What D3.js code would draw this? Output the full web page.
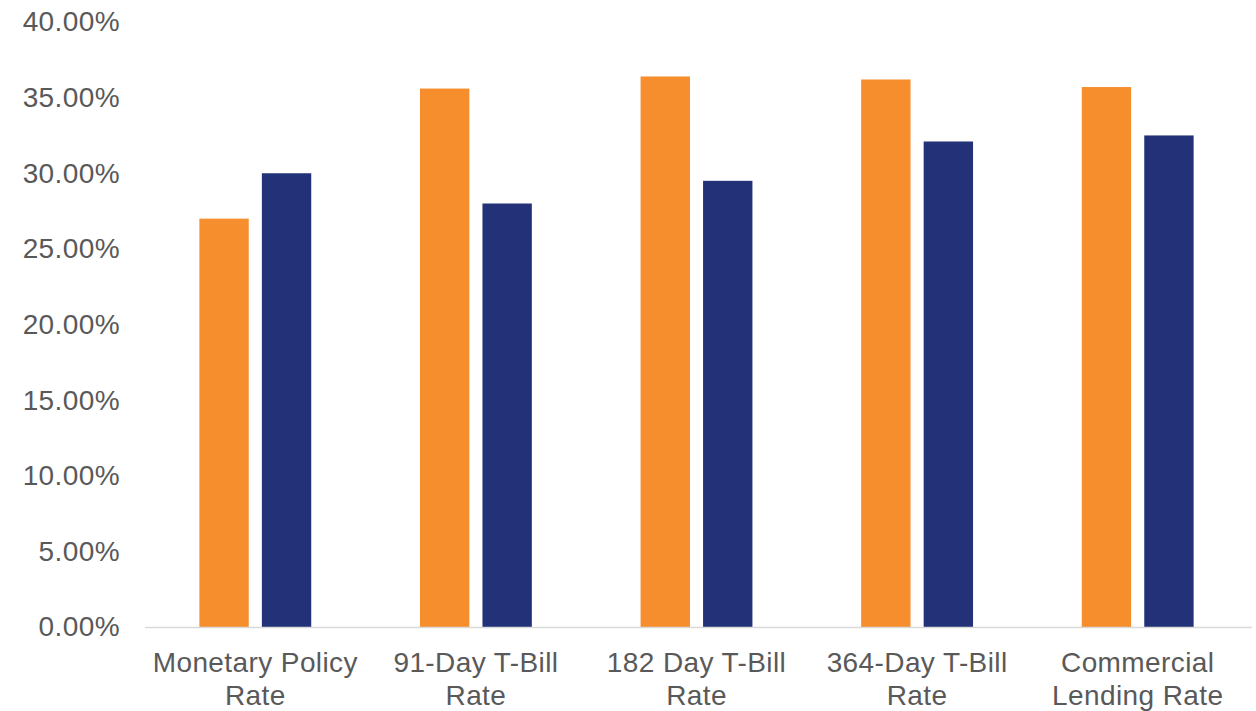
<!DOCTYPE html>
<html>
<head>
<meta charset="utf-8">
<script src="https://cdn.jsdelivr.net/npm/d3@7"></script>
<style>
  body { margin: 0; background: #fff; }
  text { font-family: "Liberation Sans", Arial, sans-serif; fill: #595959; letter-spacing: 0.4px; }
</style>
</head>
<body>
<svg id="chart" width="1256" height="711"></svg>
<script>
// categories, split into two lines as in the original
var categories = ["Monetary Policy|Rate", "91-Day T-Bill|Rate", "182 Day T-Bill|Rate", "364-Day T-Bill|Rate", "Commercial|Lending Rate"];
var series = ["a", "b"];
var seriesA = [27.0, 35.6, 36.4, 36.2, 35.7];
var seriesB = [30.0, 28.0, 29.5, 32.1, 32.5];
var yTicks = [0, 5, 10, 15, 20, 25, 30, 35, 40];
var colors = ["#f68e2d", "#233278"];

var svg = d3.select("#chart");
var margin = {top: 22, right: 8, bottom: 84, left: 145};
var width = 1256 - margin.left - margin.right;
var height = 711 - margin.top - margin.bottom;

var g = svg.append("g").attr("transform", "translate(" + margin.left + "," + margin.top + ")");

var x0 = d3.scaleBand().domain(categories).range([0, width]).padding(0);
var x1 = d3.scaleBand().domain(series).range([0, x0.bandwidth()])
    .paddingInner(0.21).paddingOuter(0.87);
var y = d3.scaleLinear().domain([0, 40]).range([height, 0]);

// y axis labels (no line, no ticks)
var yAxis = d3.axisLeft(y).tickValues(yTicks).tickSize(0).tickPadding(25)
    .tickFormat(function(d){ return d.toFixed(2) + "%"; });
var ya = g.append("g").call(yAxis);
ya.select(".domain").remove();
ya.selectAll("text").style("font-size", "28px").attr("fill", "#595959");

var rows = categories.map(function(c, i){ return {cat: c, vals: [seriesA[i], seriesB[i]]}; });

var groups = g.selectAll(".grp").data(rows).enter().append("g")
    .attr("class", "grp")
    .attr("transform", function(d){ return "translate(" + x0(d.cat) + ",0)"; });

groups.selectAll("rect")
    .data(function(d){ return d.vals.map(function(v, j){ return {key: series[j], v: v, j: j}; }); })
    .enter().append("rect")
    .attr("x", function(d){ return x1(d.key); })
    .attr("width", x1.bandwidth())
    .attr("y", function(d){ return y(d.v); })
    .attr("height", function(d){ return y(0) - y(d.v); })
    .attr("fill", function(d){ return colors[d.j]; });

// baseline
g.append("line")
    .attr("x1", 0).attr("x2", width + 4)
    .attr("y1", y(0) + 0.5).attr("y2", y(0) + 0.5)
    .attr("stroke", "#d9d9d9").attr("stroke-width", 1.5);

// category labels
var xl = g.selectAll(".xlab").data(categories).enter().append("text")
    .attr("class", "xlab")
    .attr("text-anchor", "middle")
    .style("font-size", "28px")
    .attr("transform", function(d){ return "translate(" + (x0(d) + x0.bandwidth() / 2) + "," + (y(0) + 45) + ")"; });
xl.selectAll("tspan").data(function(d){ return d.split("|"); }).enter().append("tspan")
    .attr("x", 0)
    .attr("dy", function(d, i){ return i === 0 ? 0 : 33; })
    .text(function(d){ return d; });
</script>
</body>
</html>
